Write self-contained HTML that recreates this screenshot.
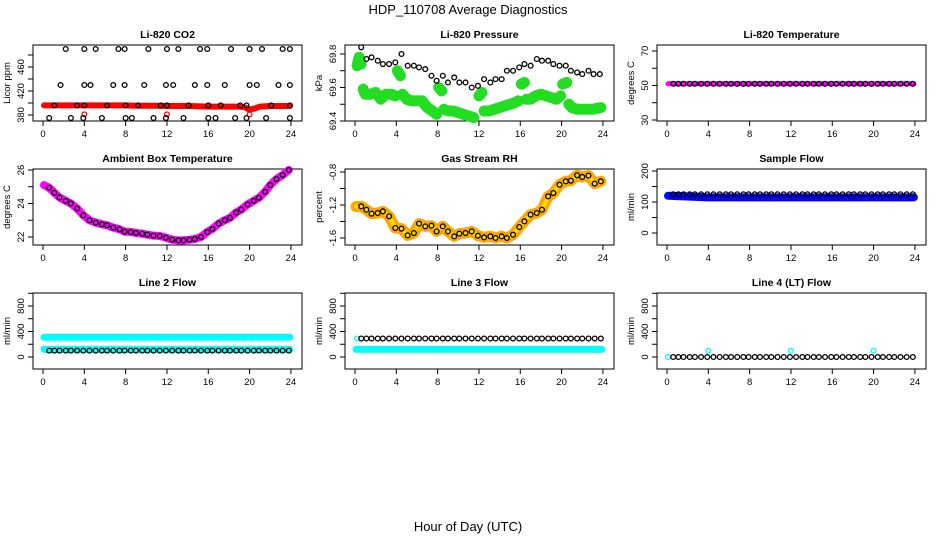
<!DOCTYPE html>
<html><head><meta charset="utf-8"><style>
body{margin:0;background:#fff}
svg{display:block;font-family:"Liberation Sans",sans-serif}
</style></head><body>
<svg id="c" width="936" height="540" xmlns="http://www.w3.org/2000/svg">
<text x="468" y="14" text-anchor="middle" font-size="13">HDP_110708  Average Diagnostics</text>
<text x="468" y="531" text-anchor="middle" font-size="13">Hour of Day (UTC)</text>
</svg>
<script>
const xTicks=[0,4,8,12,16,20,24];
// CO2
const co2BandT=[0.1,1,2,3,4,5,6,7,8,9,10,11,12,13,14,15,16,17,18,19,19.5,20,20.5,21,22,23,23.9];
const co2BandV=[396,396,396,396,396,396,396,396,396,395.5,395.5,395.5,395,395,395,394.5,394,394,394,394,393,389,391,394,395,395,395];
const co2T490=[2.2,4,5.1,7.3,7.9,10.2,12,13.1,15.2,15.9,18.2,20,21.2,23.2,23.9];
const co2T430=[1.7,4,4.6,6.8,7.9,9.8,11.9,12.6,14.7,15.9,17.6,20,20.7,22.8,23.9];
const co2T396=[1.1,3.3,4,6.2,8,9.2,11.4,12,14.1,16,17.2,19.1,19.7,22.1,23.9];
const co2T375=[0.6,2.7,3.9,5.7,8,8.6,10.7,11.9,13.6,16,16.7,18.6,19.7,21.6,23.9];
const co2RedT=[4,12,20];const co2RedV=[381,381,381];
// Pressure
const presT=[0.6,1.1,1.6,2.2,2.7,3.3,3.9,4.5,5.1,5.7,6.2,6.8,7.4,7.9,8.5,9.0,9.6,10.1,10.7,11.3,11.9,12.5,13.1,13.6,14.2,14.7,15.3,15.9,16.4,17.0,17.6,18.1,18.7,19.2,19.8,20.4,20.9,21.5,22.0,22.6,23.1,23.7];
const presV=[69.84,69.77,69.78,69.76,69.74,69.74,69.75,69.80,69.73,69.73,69.72,69.71,69.67,69.64,69.67,69.63,69.66,69.63,69.63,69.60,69.61,69.65,69.63,69.65,69.65,69.70,69.70,69.72,69.74,69.73,69.77,69.76,69.76,69.74,69.73,69.73,69.70,69.69,69.68,69.70,69.68,69.68];
const presGreenT=[[0.2,0.4,0.6],[0.8,1,1.5,2,2.5,3,3.5,3.9],[4.1,4.4],[4.6,5,5.5,6,6.5,7,7.5,7.9],[8.1,8.4],[8.6,9,9.5,10,10.5,11,11.5],[12,12.3],[12.5,13,13.5,14,14.5,15,15.5,15.8],[16.1,16.4],[16.6,17,17.5,18,18.5,19,19.5,19.9],[20.1,20.5],[20.7,21,21.5,22,22.5,23,23.8]];
const presGreenV=[[69.73,69.78,69.74],[69.59,69.56,69.56,69.57,69.53,69.56,69.56,69.55],[69.70,69.67],[69.56,69.53,69.52,69.52,69.52,69.48,69.46,69.44],[69.60,69.58],[69.47,69.46,69.46,69.45,69.44,69.43,69.42],[69.55,69.57],[69.46,69.46,69.47,69.48,69.49,69.50,69.51,69.52],[69.62,69.63],[69.53,69.53,69.55,69.56,69.55,69.54,69.53,69.55],[69.62,69.63],[69.50,69.48,69.47,69.47,69.47,69.47,69.48]];
const ptT=[0.6,1.1,1.6,2.2,2.7,3.3,3.9,4.5,5.1,5.7,6.2,6.8,7.4,7.9,8.5,9.0,9.6,10.1,10.7,11.3,11.9,12.5,13.1,13.6,14.2,14.7,15.3,15.9,16.4,17.0,17.6,18.1,18.7,19.2,19.8,20.4,20.9,21.5,22.0,22.6,23.2,23.8];
const ambV=[24.94,24.64,24.36,24.16,24.0,23.7,23.3,23.0,22.86,22.76,22.7,22.56,22.46,22.32,22.3,22.24,22.2,22.14,22.08,22.06,21.96,21.84,21.8,21.8,21.84,21.88,22.0,22.3,22.48,22.8,23.0,23.14,23.46,23.64,23.94,24.16,24.34,24.7,25.1,25.46,25.7,26.0];
const rhV=[-1.216,-1.257,-1.305,-1.297,-1.277,-1.337,-1.479,-1.487,-1.568,-1.54,-1.426,-1.459,-1.451,-1.52,-1.459,-1.52,-1.58,-1.547,-1.54,-1.52,-1.572,-1.592,-1.58,-1.6,-1.58,-1.6,-1.56,-1.467,-1.398,-1.317,-1.297,-1.257,-1.095,-1.055,-0.954,-0.913,-0.905,-0.84,-0.86,-0.844,-0.941,-0.913];
const bandT=[0.1,4,8,12,16,20,23.9];
const tempBandV=[51,51,51,51,51,51,51];const tempPtV=51;
const sfBandV=[120,115,115,115,115,115,115];const sfPtV=125;
const l2HighV=[310,310,310,310,310,310,310];const l2LowV=[120,120,120,120,120,120,120];const l2PtV=100;
const l3BandV=[120,120,120,120,120,120,120];const l3PtV=290;const l3CyanT=[0.2];const l3CyanV=[290];
const l4PtV=0;const l4CyanT=[0.1,4,12,20];const l4CyanV=[0,100,100,100];

const svg=document.getElementById('c');const NS='http://www.w3.org/2000/svg';
function mk(tag,attrs,parent){const e=document.createElementNS(NS,tag);for(const k in attrs)e.setAttribute(k,attrs[k]);(parent||svg).appendChild(e);return e;}
function panel(col,row,title,ylab,cal,ticks,labels,name){
  const L=33+312*col,R=302+312*col,T=45+124*row,B=121+124*row;
  const g=mk('g',{});
  
  
  const x=t=>L+10+t*10.33;
  const y=v=>cal[1]+(v-cal[0])*(cal[3]-cal[1])/(cal[2]-cal[0]);
  const frame=mk('rect',{x:L,y:T,width:R-L,height:B-T,fill:'none',stroke:'#000','stroke-width':1},g);
  
  
  const tt=mk('text',{x:(L+R)/2,y:T-7,'text-anchor':'middle','font-size':10.5,'font-weight':'bold'},g);tt.textContent=title;
  
  
  const yl=mk('text',{transform:`translate(${L-23},${(T+B)/2}) rotate(-90)`,'text-anchor':'middle','font-size':9.5},g);yl.textContent=ylab;
  
  
  mk('line',{x1:L,x2:L,y1:y(ticks[0]),y2:y(ticks[ticks.length-1]),stroke:'#000'},g);
  ticks.forEach(v=>{mk('line',{x1:L-5,x2:L,y1:y(v),y2:y(v),stroke:'#000'},g);});
  labels.forEach(v=>{const t=mk('text',{transform:`translate(${L-9},${y(v)}) rotate(-90)`,'text-anchor':'middle','font-size':9.5},g);t.textContent=String(v);
    
    });
  mk('line',{x1:x(0),x2:x(24),y1:B,y2:B,stroke:'#000'},g);
  xTicks.forEach(v=>{mk('line',{x1:x(v),x2:x(v),y1:B,y2:B+5,stroke:'#000'},g);
    const t=mk('text',{x:x(v),y:B+16,'text-anchor':'middle','font-size':9.5},g);t.textContent=String(v);
    
    });
  return {g,x,y,
    band(ts,vs,color,w){const p=mk('polyline',{points:ts.map((t,i)=>x(t)+','+y(vs[i])).join(' '),fill:'none',stroke:color,'stroke-width':w,'stroke-linejoin':'round','stroke-linecap':'round'},g);
      
      },
    pts(ts,vs,color){ts.forEach((t,i)=>{const v=Array.isArray(vs)?vs[i]:vs;const c=mk('circle',{cx:x(t),cy:y(v),r:2.4,fill:'none',stroke:color,'stroke-width':1.3},g);
      
      });}
  };
}
let p;
p=panel(0,0,'Li-820 CO2','Licor ppm',[380,115,460,67],[380,400,420,440,460,480],[380,420,460],'co2');
p.band(co2BandT,co2BandV,'#ff0000',6);
p.pts(co2RedT,co2RedV,'#ff0000');
p.pts(co2T490,490,'#000');p.pts(co2T430,430,'#000');p.pts(co2T396,396,'#000');p.pts(co2T375,375,'#000');
p=panel(1,0,'Li-820 Pressure','kPa',[69.4,121,69.8,54],[69.4,69.5,69.6,69.7,69.8],[69.4,69.6,69.8],'pressure');
presGreenT.forEach((ts,i)=>p.band(ts,presGreenV[i],'#22dd22',11));
p.pts(presT,presV,'#000');
p=panel(2,0,'Li-820 Temperature','degrees C',[30,120,70,51],[30,40,50,60,70],[30,50,70],'temperature');
p.band(bandT,tempBandV,'#ff00ff',5);p.pts(ptT,tempPtV,'#000');
p=panel(0,1,'Ambient Box Temperature','degrees C',[22,237,26,170],[22,23,24,25,26],[22,24,26],'ambient');
p.band([0.1].concat(ptT),[25.1].concat(ambV),'#ff00ff',8);p.pts(ptT,ambV,'#000');
p=panel(1,1,'Gas Stream RH','percent',[-1.6,238,-0.8,172],[-1.6,-1.4,-1.2,-1.0,-0.8],[-1.6,-1.2,-0.8],'rh');
p.band([0.1].concat(ptT),[-1.22].concat(rhV),'#ffa500',11);
p.band([0.1].concat(ptT),[-1.22].concat(rhV),'#ffd700',4);
p.pts(ptT,rhV,'#000');
p=panel(2,1,'Sample Flow','ml/min',[0,233,200,171],[0,50,100,150,200],[0,100,200],'sample-flow');
p.band(bandT,sfBandV,'#0000ff',8);p.pts(ptT,sfPtV,'#000');
p=panel(0,2,'Line 2 Flow','ml/min',[0,357,800,306],[0,200,400,600,800,1000],[0,400,800],'line2');
p.band(bandT,l2HighV,'#00ffff',7);p.band(bandT,l2LowV,'#00ffff',7);p.pts(ptT,l2PtV,'#000');
p=panel(1,2,'Line 3 Flow','ml/min',[0,357,800,306],[0,200,400,600,800,1000],[0,400,800],'line3');
p.band(bandT,l3BandV,'#00ffff',7);p.pts(l3CyanT,l3CyanV,'#00ffff');p.pts(ptT,l3PtV,'#000');
p=panel(2,2,'Line 4 (LT) Flow','ml/min',[0,357,800,306],[0,200,400,600,800,1000],[0,400,800],'line4');
p.pts(l4CyanT,l4CyanV,'#00ffff');p.pts(ptT,l4PtV,'#000');
</script>
</body></html>
